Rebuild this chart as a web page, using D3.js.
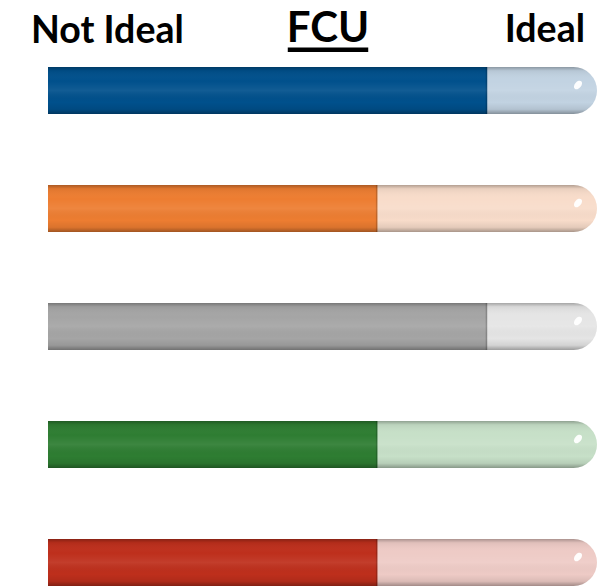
<!DOCTYPE html>
<html>
<head>
<meta charset="utf-8">
<script src="https://cdn.jsdelivr.net/npm/d3@7"></script>
<style>
  html, body { margin: 0; padding: 0; background: #fff; }
  svg { display: block; }
</style>
</head>
<body>
<svg id="chart" width="615" height="587"></svg>
<script>
// Progress bars on a 0–100 scale from "Not Ideal" to "Ideal"
const rows = ["r1", "r2", "r3", "r4", "r5"];
const values = [80, 60, 80, 60, 60];
const fillColors = ["#00508C", "#ED7D31", "#A5A5A5", "#2E7D32", "#BE2F1C"];
const trackColors = ["#C2D3E2", "#F8DCCA", "#E5E5E5", "#C7E0C8", "#EECBC6"];
const title = "FCU";
const leftLabel = "Not Ideal";
const rightLabel = "Ideal";

const svg = d3.select("#chart");

const step = 118, barH = 47;
const x = d3.scaleLinear().domain([0, 100]).range([48, 597]);
const y = d3.scaleBand().domain(rows)
  .range([67, 67 + step * (rows.length - 1) + barH])
  .paddingInner((step - barH) / step).paddingOuter(0).align(0);
const bh = y.bandwidth();
const r = bh / 2;

const defs = svg.append("defs");
// soft cylindrical shading shared by every bar
const shade = defs.append("linearGradient").attr("id", "shade").attr("x1", 0).attr("y1", 0).attr("x2", 0).attr("y2", 1);
[[0, "#000", 0.28], [0.08, "#000", 0.06], [0.3, "#fff", 0.0], [0.5, "#fff", 0.07], [0.75, "#000", 0.0], [0.9, "#000", 0.08], [1, "#000", 0.32]]
  .forEach(([o, c, a]) => shade.append("stop").attr("offset", o).attr("stop-color", c).attr("stop-opacity", a));

// capsule path: square left end, round right end
function capsule(x0, x1, yy) {
  return `M${x0},${yy}H${x1 - r}A${r},${r} 0 0 1 ${x1 - r},${yy + bh}H${x0}Z`;
}

const bar = svg.append("g").selectAll("g.bar").data(rows).join("g").attr("class", "bar");

bar.append("path")
  .attr("d", d => capsule(x(0), x(100), y(d)))
  .attr("fill", (d, i) => trackColors[i]);

bar.append("rect")
  .attr("x", x(0))
  .attr("y", d => y(d))
  .attr("width", (d, i) => x(values[i]) - x(0))
  .attr("height", bh)
  .attr("fill", (d, i) => fillColors[i]);

// thin shadow where the fill meets the track
bar.append("rect")
  .attr("x", (d, i) => x(values[i]) - 1.5)
  .attr("y", d => y(d))
  .attr("width", 1.5)
  .attr("height", bh)
  .attr("fill", "#000")
  .attr("opacity", 0.18);

bar.append("path")
  .attr("d", d => capsule(x(0), x(100), y(d)))
  .attr("fill", "url(#shade)");

// glossy highlight near the rounded end
bar.append("ellipse")
  .attr("cx", x(100) - 19)
  .attr("cy", d => y(d) + 18)
  .attr("rx", 3.2)
  .attr("ry", 5)
  .attr("transform", d => `rotate(40 ${x(100) - 19} ${y(d) + 18})`)
  .attr("fill", "#fff")
  .attr("opacity", 0.95);

const font = "Lato, 'Open Sans', sans-serif";
svg.append("text").attr("x", 31).attr("y", 43)
  .attr("font-family", font).attr("font-weight", 700).attr("font-size", 37.5)
  .attr("fill", "#000").text(leftLabel);

svg.append("text").attr("x", 585).attr("y", 42).attr("text-anchor", "end")
  .attr("font-family", font).attr("font-weight", 700).attr("font-size", 37.5)
  .attr("fill", "#000").text(rightLabel);

const t = svg.append("text").attr("x", 328).attr("y", 42).attr("text-anchor", "middle")
  .attr("font-family", font).attr("font-weight", 700).attr("font-size", 42)
  .attr("fill", "#000").text(title);
const bb = t.node().getBBox();
svg.append("rect").attr("x", bb.x + 1).attr("y", 47.5).attr("width", bb.width - 2).attr("height", 4.5).attr("fill", "#000");
</script>
</body>
</html>
